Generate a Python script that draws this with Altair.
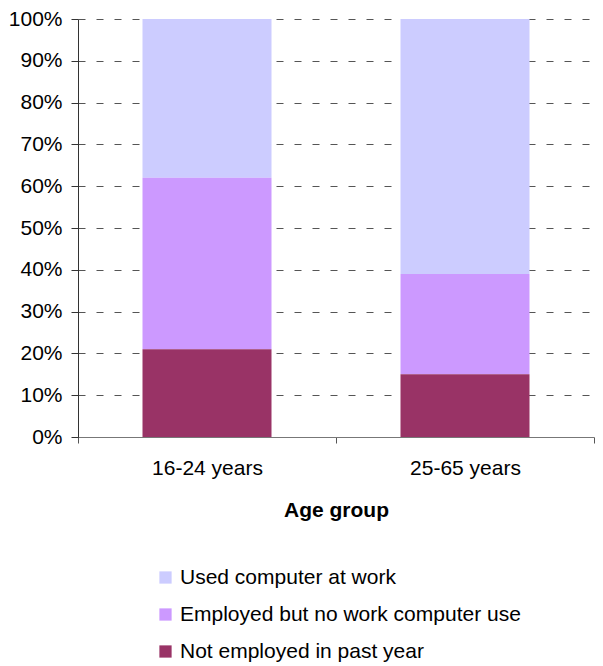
import altair as alt
import pandas as pd

categories = ["16-24 years", "25-65 years"]
series = ["Used computer at work", "Employed but no work computer use", "Not employed in past year"]
colors = ["#CCCCFF", "#CC99FF", "#993366"]
stack_rank = [2, 1, 0]
used = [38, 61]
employed_no_pc = [41, 24]
not_employed = [21, 15]

rows = []
for i, c in enumerate(categories):
    for s, v, r in zip(series, [used[i], employed_no_pc[i], not_employed[i]], stack_rank):
        rows.append({"group": c, "status": s, "value": v / 100, "rank": r})
df = pd.DataFrame(rows)

FONT = "Liberation Sans"
FS = 21

chart = alt.Chart(df).mark_bar(width=alt.RelativeBandSize(0.5)).encode(
    x=alt.X("group:N", title="Age group",
            scale=alt.Scale(paddingInner=0, paddingOuter=0),
            axis=alt.Axis(labelAngle=0, tickBand="extent", tickSize=6,
                          labelPadding=14, titlePadding=21,
                          labelFontSize=FS, titleFontSize=FS, titleFontWeight="bold",
                          domainColor="#777", tickColor="#555")),
    y=alt.Y("value:Q", stack="zero", title=None,
            scale=alt.Scale(domain=[0, 1]),
            axis=alt.Axis(format=".0%", values=[i / 10 for i in range(11)],
                          tickSize=7, labelPadding=9, labelFontSize=FS,
                          grid=True, gridDash=[7, 11], gridColor="#555",
                          domainColor="#333", tickColor="#333")),
    color=alt.Color("status:N",
                    scale=alt.Scale(domain=series, range=colors),
                    legend=alt.Legend(title=None, orient="none", legendX=77, legendY=548,
                                      symbolType="square", symbolSize=150,
                                      symbolStrokeWidth=0, labelFontSize=FS,
                                      labelLimit=600, rowPadding=15, labelOffset=4)),
    order=alt.Order("rank:Q", sort="ascending"),
).properties(
    width=516, height=418,
    padding={"left": 0, "top": 0, "right": 0, "bottom": 0},
).configure(
    font=FONT,
).configure_axis(
    labelColor="#000", titleColor="#000", labelFont=FONT, titleFont=FONT,
).configure_legend(
    labelColor="#000", labelFont=FONT,
).configure_view(stroke=None)

chart.save("out.html", embed_options={"renderer": "svg", "actions": False})
